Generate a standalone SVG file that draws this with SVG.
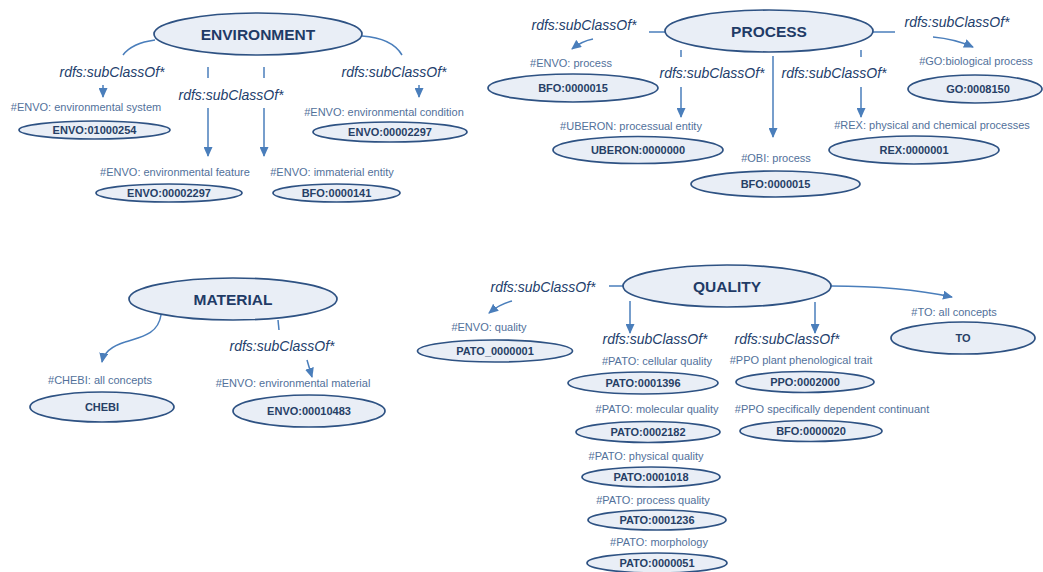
<svg xmlns="http://www.w3.org/2000/svg" width="1043" height="572" viewBox="0 0 1043 572">
<defs>
<marker id="ah" markerWidth="10" markerHeight="9" refX="9" refY="4.5" orient="auto" markerUnits="userSpaceOnUse">
<path d="M0,0 L10,4.5 L0,9 Z" fill="#4A7EBB"/>
</marker>
<style>
.bg{fill:#ffffff}
.main{fill:#E9EEF6;stroke:#2E5283;stroke-width:1.7}
.sub{fill:#E9EEF6;stroke:#2E5283;stroke-width:1.7}
.title{font-family:"Liberation Sans",Arial,sans-serif;font-weight:bold;font-size:15.5px;fill:#1F3B66;text-anchor:middle}
.id{font-family:"Liberation Sans",Arial,sans-serif;font-weight:bold;font-size:11px;fill:#263F66;text-anchor:middle}
.lbl{font-family:"Liberation Sans",Arial,sans-serif;font-size:11px;fill:#52719B;text-anchor:middle}
.rel{font-family:"Liberation Sans",Arial,sans-serif;font-style:italic;font-size:14px;fill:#23406C;text-anchor:middle}
.c{fill:none;stroke:#4A7EBB;stroke-width:1.5}
.a{fill:none;stroke:#4A7EBB;stroke-width:1.5;marker-end:url(#ah)}
</style>
</defs>
<rect class="bg" x="0" y="0" width="1043" height="572"/>

<g id="connectors">
<!-- Environment -->
<path class="c" d="M123,55 Q132,43 155,40"/>
<path class="a" d="M103,85 L103,97"/>
<path class="c" d="M208,67 L208,78"/>
<path class="c" d="M264,67 L264,78"/>
<path class="a" d="M208,108 L208,156"/>
<path class="a" d="M264,108 L264,156"/>
<path class="c" d="M362,36 Q392,38 402,55"/>
<path class="a" d="M419,85 L419,97"/>
<!-- Process -->
<path class="c" d="M649,32 L665,32"/>
<path class="a" d="M593,39 Q582,41 572,49"/>
<path class="c" d="M681,50 L681,57"/>
<path class="a" d="M681,87 L681,117"/>
<path class="a" d="M773,56 L773,137"/>
<path class="c" d="M861,50 L861,57"/>
<path class="a" d="M861,87 L861,117"/>
<path class="c" d="M873,32 L895,32"/>
<path class="a" d="M933,37 Q955,39 973,47"/>
<!-- Material -->
<path class="a" d="M161,315 C158,335 140,337 125,342 C112,346 104,352 102,362"/>
<path class="c" d="M278,320 L279,330"/>
<path class="a" d="M307,360 L312,377"/>
<!-- Quality -->
<path class="c" d="M609,286 L623,286"/>
<path class="a" d="M512,301 Q500,304 489,313"/>
<path class="a" d="M630,301 L630,333"/>
<path class="a" d="M815,302 L815,333"/>
<path class="a" d="M831,286 Q900,286 952,297"/>
</g>

<g id="relation-labels">
<text class="rel" x="112" y="77">rdfs:subClassOf*</text>
<text class="rel" x="231" y="100">rdfs:subClassOf*</text>
<text class="rel" x="394" y="77">rdfs:subClassOf*</text>
<text class="rel" x="584" y="30">rdfs:subClassOf*</text>
<text class="rel" x="712" y="78">rdfs:subClassOf*</text>
<text class="rel" x="834" y="78">rdfs:subClassOf*</text>
<text class="rel" x="957" y="27">rdfs:subClassOf*</text>
<text class="rel" x="282" y="351">rdfs:subClassOf*</text>
<text class="rel" x="543" y="292">rdfs:subClassOf*</text>
<text class="rel" x="655" y="344">rdfs:subClassOf*</text>
<text class="rel" x="787" y="344">rdfs:subClassOf*</text>
</g>

<!-- ENVIRONMENT -->
<g id="environment">
<ellipse class="main" cx="258" cy="34" rx="104" ry="21"/>
<text class="title" x="258" y="40">ENVIRONMENT</text>
</g>
<g id="envo-environmental-system">
<text class="lbl" x="86" y="111">#ENVO: environmental system</text>
<ellipse class="sub" cx="94.5" cy="130" rx="75.5" ry="9"/>
<text class="id" x="94.5" y="134">ENVO:01000254</text>
</g>
<g id="envo-environmental-feature">
<text class="lbl" x="175" y="176">#ENVO: environmental feature</text>
<ellipse class="sub" cx="169" cy="193" rx="73" ry="9"/>
<text class="id" x="169" y="197">ENVO:00002297</text>
</g>
<g id="envo-immaterial-entity">
<text class="lbl" x="332" y="176">#ENVO: immaterial entity</text>
<ellipse class="sub" cx="336.5" cy="193" rx="63.5" ry="9"/>
<text class="id" x="336.5" y="197">BFO:0000141</text>
</g>
<g id="envo-environmental-condition">
<text class="lbl" x="384" y="116">#ENVO: environmental condition</text>
<ellipse class="sub" cx="390" cy="132" rx="77" ry="10"/>
<text class="id" x="390" y="136">ENVO:00002297</text>
</g>

<!-- PROCESS -->
<g id="process">
<ellipse class="main" cx="769" cy="31" rx="104" ry="21"/>
<text class="title" x="769" y="37">PROCESS</text>
</g>
<g id="envo-process">
<text class="lbl" x="571" y="67">#ENVO: process</text>
<ellipse class="sub" cx="573" cy="88" rx="85" ry="14"/>
<text class="id" x="573" y="92">BFO:0000015</text>
</g>
<g id="uberon-processual-entity">
<text class="lbl" x="631" y="130">#UBERON: processual entity</text>
<ellipse class="sub" cx="638" cy="150" rx="85" ry="13.5"/>
<text class="id" x="638" y="154">UBERON:0000000</text>
</g>
<g id="obi-process">
<text class="lbl" x="776" y="162">#OBI: process</text>
<ellipse class="sub" cx="775.5" cy="184" rx="84.5" ry="13"/>
<text class="id" x="775.5" y="188">BFO:0000015</text>
</g>
<g id="rex-processes">
<text class="lbl" x="932" y="129">#REX: physical and chemical processes</text>
<ellipse class="sub" cx="914" cy="150" rx="85" ry="14"/>
<text class="id" x="914" y="154">REX:0000001</text>
</g>
<g id="go-biological-process">
<text class="lbl" x="976" y="65">#GO:biological process</text>
<ellipse class="sub" cx="975" cy="89" rx="67" ry="14"/>
<text class="id" x="978" y="93">GO:0008150</text>
</g>

<!-- MATERIAL -->
<g id="material">
<ellipse class="main" cx="233" cy="299" rx="104" ry="21"/>
<text class="title" x="233" y="305">MATERIAL</text>
</g>
<g id="chebi">
<text class="lbl" x="100" y="384">#CHEBI: all concepts</text>
<ellipse class="sub" cx="102" cy="407" rx="72" ry="15"/>
<text class="id" x="102" y="411">CHEBI</text>
</g>
<g id="envo-environmental-material">
<text class="lbl" x="293" y="387">#ENVO: environmental material</text>
<ellipse class="sub" cx="309" cy="411" rx="76" ry="16"/>
<text class="id" x="309" y="415">ENVO:00010483</text>
</g>

<!-- QUALITY -->
<g id="quality">
<ellipse class="main" cx="727" cy="286" rx="104" ry="21"/>
<text class="title" x="727" y="292">QUALITY</text>
</g>
<g id="envo-quality">
<text class="lbl" x="489" y="331">#ENVO: quality</text>
<ellipse class="sub" cx="495" cy="351" rx="77.5" ry="11"/>
<text class="id" x="495" y="355">PATO_0000001</text>
</g>
<g id="pato-cellular-quality">
<text class="lbl" x="657" y="365">#PATO: cellular quality</text>
<ellipse class="sub" cx="643" cy="383" rx="75" ry="11"/>
<text class="id" x="643" y="387">PATO:0001396</text>
</g>
<g id="ppo-phenological-trait">
<text class="lbl" x="801" y="364">#PPO plant phenological trait</text>
<ellipse class="sub" cx="805" cy="382" rx="69" ry="10.5"/>
<text class="id" x="805" y="386">PPO:0002000</text>
</g>
<g id="pato-molecular-quality">
<text class="lbl" x="657" y="413">#PATO: molecular quality</text>
<ellipse class="sub" cx="648" cy="432" rx="72" ry="10.5"/>
<text class="id" x="648" y="436">PATO:0002182</text>
</g>
<g id="ppo-sdc">
<text class="lbl" x="832" y="413">#PPO specifically dependent continuant</text>
<ellipse class="sub" cx="811" cy="431" rx="71" ry="10.5"/>
<text class="id" x="811" y="435">BFO:0000020</text>
</g>
<g id="pato-physical-quality">
<text class="lbl" x="646" y="460">#PATO: physical quality</text>
<ellipse class="sub" cx="651" cy="477" rx="69" ry="10"/>
<text class="id" x="651" y="481">PATO:0001018</text>
</g>
<g id="pato-process-quality">
<text class="lbl" x="653" y="504">#PATO: process quality</text>
<ellipse class="sub" cx="657" cy="520" rx="69" ry="10"/>
<text class="id" x="657" y="524">PATO:0001236</text>
</g>
<g id="pato-morphology">
<text class="lbl" x="659" y="546">#PATO: morphology</text>
<ellipse class="sub" cx="657" cy="563" rx="70" ry="10"/>
<text class="id" x="657" y="567">PATO:0000051</text>
</g>
<g id="to">
<text class="lbl" x="954" y="316">#TO: all concepts</text>
<ellipse class="sub" cx="963" cy="338" rx="72" ry="16"/>
<text class="id" x="963" y="342">TO</text>
</g>
</svg>
